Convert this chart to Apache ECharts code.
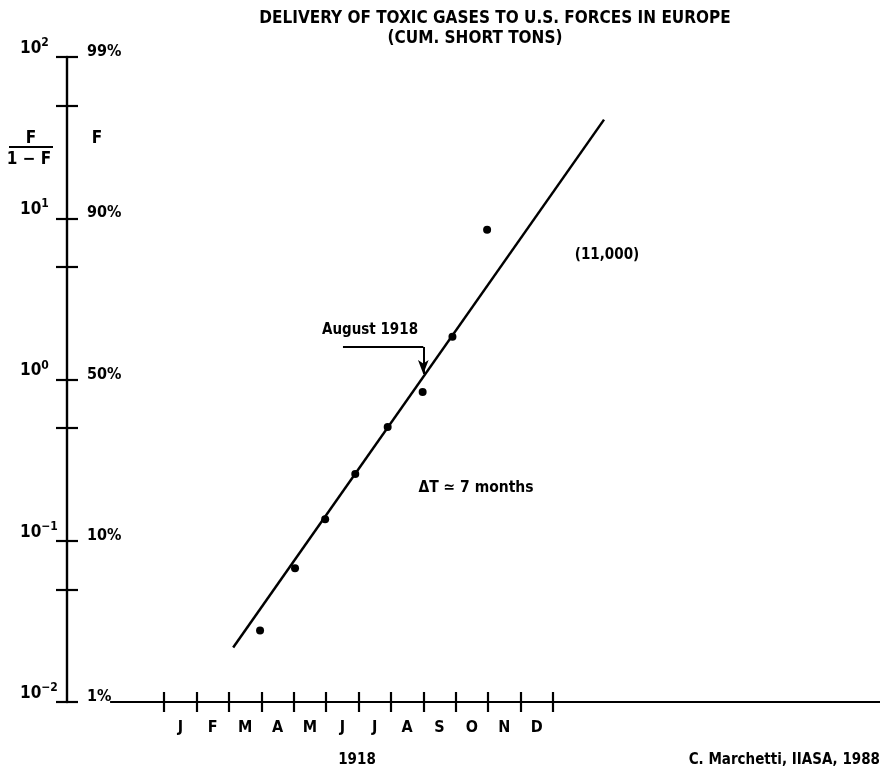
<!DOCTYPE html>
<html><head><meta charset="utf-8">
<script src="https://cdn.jsdelivr.net/npm/echarts@6/dist/echarts.min.js"></script>
<style>html,body{margin:0;padding:0;background:#fff}#c{width:881px;height:776px}</style>
</head><body><div id="c"></div>
<script>
// months counted from the start of January 1918 (0) ; tick at every month boundary
const monthLetters = ['J','F','M','A','M','J','J','A','S','O','N','D'];
const monthTicks = [0,1,2,3,4,5,6,7,8,9,10,11,12];
const monthLabelPos = [0.5,1.5,2.5,3.5,4.5,5.5,6.5,7.5,8.5,9.5,10.5,11.5];
// observed F/(1-F) values
const pointMonths = [2.96, 4.04, 4.97, 5.9, 6.9, 7.98, 8.9, 9.97];
const pointRatios = [0.0278, 0.0675, 0.136, 0.259, 0.507, 0.836, 1.84, 8.48];
// fitted logistic line ends
const fitMonths = [2.13, 13.58];
const fitRatios = [0.0218, 40.9];
// y ticks
const decadeTicks = [0.01, 0.1, 1, 10, 100];
const decadeExp = ['−2','−1','0','1','2'];
const percentLabels = ['1%','10%','50%','90%','99%'];
const halfTicks = [0.05, 0.5, 5, 50];
// "August 1918" arrow path
const arrowMonths = [5.52, 8.0, 8.0];
const arrowRatios = [1.59, 1.59, 1.08];
// x axis line extent
const xLineMonths = [-1.67, 22.1];

const L = Math.log10;
const FONT = 'DejaVu Sans Condensed';
const allYTicks = decadeTicks.concat(halfTicks).map(L);
const xMin = -3, xMax = 22.1;

const chart = echarts.init(document.getElementById('c'), null, {renderer:'canvas'});
const black = '#000';
const baseX = {
  type:'value', min:xMin, max:xMax, position:'bottom', gridIndex:0,
  axisLine:{show:false, onZero:false}, splitLine:{show:false}
};
const baseY = {
  type:'value', min:-2, max:2, position:'left', gridIndex:0,
  splitLine:{show:false}
};
function txt(text, x, y, size, align){
  return {type:'text', x:x, y:y, silent:true,
    style:{text:text, font:'bold '+size+'px "'+FONT+'"', fill:black, align:align||'left', verticalAlign:'middle'}};
}
chart.setOption({
  animation:false,
  backgroundColor:'#fff',
  grid:{left:67, right:1, top:57, bottom:74, containLabel:false},
  xAxis:[
    Object.assign({}, baseX, {
      axisTick:{show:true, customValues:monthTicks, length:10, inside:false, lineStyle:{color:black, width:2.2}},
      axisLabel:{show:true, customValues:monthLabelPos, margin:18,
        formatter:v=>monthLetters[Math.round(v-0.5)],
        fontFamily:FONT, fontWeight:'bold', fontSize:16, color:black}
    }),
    Object.assign({}, baseX, {
      axisTick:{show:true, customValues:monthTicks, length:10, inside:true, lineStyle:{color:black, width:2.2}},
      axisLabel:{show:false}
    })
  ],
  yAxis:[
    Object.assign({}, baseY, {
      axisLine:{show:true, onZero:false, lineStyle:{color:black, width:2.4}},
      axisTick:{show:true, customValues:allYTicks, length:11, inside:false, lineStyle:{color:black, width:2.2}},
      axisLabel:{show:true, customValues:decadeTicks.map(L), margin:47, align:'left', verticalAlign:'bottom',
        formatter:v=>'{n|10}{s|'+decadeExp[Math.round(v)+2]+'}',
        rich:{
          n:{fontFamily:FONT, fontWeight:'bold', fontSize:17, color:black, lineHeight:10, verticalAlign:'bottom'},
          s:{fontFamily:FONT, fontWeight:'bold', fontSize:12, color:black, lineHeight:10, verticalAlign:'bottom', padding:[0,0,8,0]}
        }}
    }),
    Object.assign({}, baseY, {
      axisLine:{show:false, onZero:false},
      axisTick:{show:true, customValues:allYTicks, length:11, inside:true, lineStyle:{color:black, width:2.2}},
      axisLabel:{show:true, inside:true, customValues:decadeTicks.map(L), margin:20, verticalAlign:'bottom', lineHeight:10,
        formatter:v=>percentLabels[Math.round(v)+2],
        fontFamily:FONT, fontWeight:'bold', fontSize:16, color:black}
    })
  ],
  series:[
    {
      type:'line', name:'fit', xAxisIndex:0, yAxisIndex:0,
      data:fitMonths.map((m,i)=>[m, L(fitRatios[i])]),
      symbol:'none', lineStyle:{color:black, width:2.5}, silent:true, z:3
    },
    {
      type:'scatter', name:'data', xAxisIndex:0, yAxisIndex:0,
      data:pointMonths.map((m,i)=>[m, L(pointRatios[i])]),
      symbol:'circle', symbolSize:8, itemStyle:{color:black, opacity:1}, silent:true, z:4
    },
    {
      type:'line', name:'annot', xAxisIndex:0, yAxisIndex:0, data:[], silent:true,
      markLine:{
        silent:true, animation:false, label:{show:false},
        lineStyle:{color:black, type:'solid', width:2},
        symbol:['none','none'],
        data:[
          [{coord:[arrowMonths[0], L(arrowRatios[0])], symbol:'none'},
           {coord:[arrowMonths[1], L(arrowRatios[1])], symbol:'none'}],
          [{coord:[arrowMonths[1], L(arrowRatios[1])], symbol:'none'},
           {coord:[arrowMonths[2], L(arrowRatios[2])], symbol:'arrow', symbolSize:[8,14]}],
          [{coord:[xLineMonths[0], -2], symbol:'none', lineStyle:{width:2.2}},
           {coord:[xLineMonths[1], -2], symbol:'none'}]
        ]
      }
    }
  ],
  graphic:[
    txt('DELIVERY OF TOXIC GASES TO U.S. FORCES IN EUROPE', 495, 19, 17, 'center'),
    txt('(CUM. SHORT TONS)', 475, 39, 17, 'center'),
    txt('F', 31, 139, 17, 'center'),
    {type:'line', silent:true, shape:{x1:9, y1:147, x2:53, y2:147}, style:{stroke:black, lineWidth:2}},
    txt('1 − F', 29, 160, 17, 'center'),
    txt('F', 97, 139, 17, 'center'),
    txt('August 1918', 370, 330, 15, 'center'),
    txt('(11,000)', 607, 255, 15, 'center'),
    txt('ΔT ≃ 7 months', 476, 488, 15.5, 'center'),
    txt('1918', 357, 760, 15, 'center'),
    txt('C. Marchetti, IIASA, 1988', 880, 760, 15, 'right')
  ]
});
</script></body></html>
